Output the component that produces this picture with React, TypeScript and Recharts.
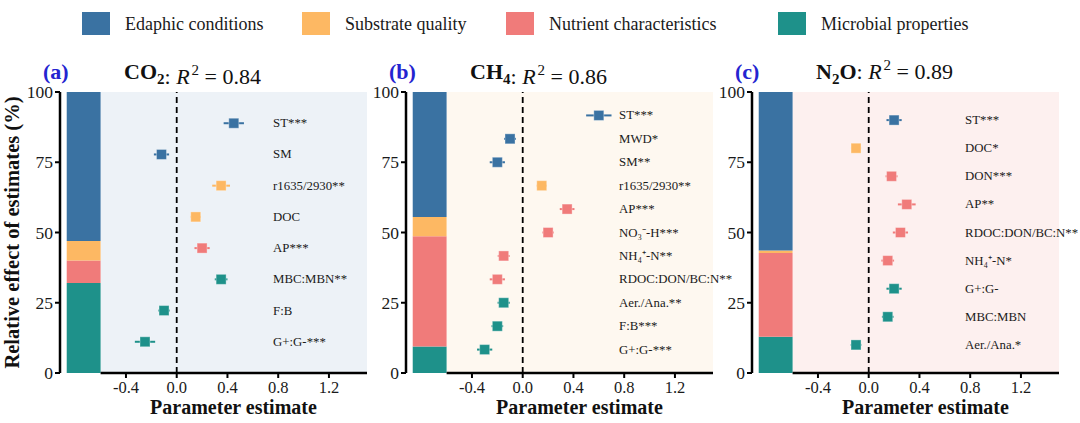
import React from "react";
import {
  ComposedChart,
  Scatter,
  ErrorBar,
  XAxis,
  YAxis,
  ReferenceArea,
  ReferenceLine,
} from "recharts";

// groups (legend order)
const groupNames = ["Edaphic conditions", "Substrate quality", "Nutrient characteristics", "Microbial properties"];
const groupColors = ["#3A72A2", "#FDB863", "#F07B7A", "#1E918A"];

// (a) CO2
const labelsA = ["ST***", "SM", "r1635/2930**", "DOC", "AP***", "MBC:MBN**", "F:B", "G+:G-***"];
const estA = [0.45, -0.12, 0.35, 0.15, 0.2, 0.35, -0.1, -0.25];
const errA = [0.08, 0.06, 0.07, 0.04, 0.06, 0.05, 0.045, 0.08];
const groupA = [0, 0, 1, 1, 2, 3, 3, 3];
const shareA = [53, 7, 8, 32];

// (b) CH4
const labelsB = ["ST***", "MWD*", "SM**", "r1635/2930**", "AP***", "NO₃⁻-H***", "NH₄⁺-N**", "RDOC:DON/BC:N**", "Aer./Ana.**", "F:B***", "G+:G-***"];
const estB = [0.6, -0.1, -0.2, 0.15, 0.35, 0.2, -0.15, -0.2, -0.15, -0.2, -0.3];
const errB = [0.1, 0.047, 0.06, 0.04, 0.058, 0.045, 0.047, 0.06, 0.048, 0.046, 0.06];
const groupB = [0, 0, 0, 1, 2, 2, 2, 2, 3, 3, 3];
const shareB = [44.5, 6.8, 39.3, 9.4];

// (c) N2O
const labelsC = ["ST***", "DOC*", "DON***", "AP**", "RDOC:DON/BC:N**", "NH₄⁺-N*", "G+:G-", "MBC:MBN", "Aer./Ana.*"];
const estC = [0.2, -0.1, 0.18, 0.3, 0.25, 0.15, 0.2, 0.15, -0.1];
const errC = [0.06, 0.04, 0.047, 0.07, 0.06, 0.05, 0.06, 0.046, 0.042];
const groupC = [0, 1, 2, 2, 2, 2, 3, 3, 3];
const shareC = [56.4, 0.9, 29.8, 12.9];

const xTicks = [-0.4, 0, 0.4, 0.8, 1.2];
const yTicks = [0, 25, 50, 75, 100];
const LABEL_X = 0.76;
const FONT = "Liberation Serif, Times New Roman, serif";

const panels = [
  { tag: "(a)", gas: "CO", sub: "2", tail: "", r2: "0.84", labels: labelsA, est: estA, err: errA, group: groupA, share: shareA, bg: "#EDF2F7" },
  { tag: "(b)", gas: "CH", sub: "4", tail: "", r2: "0.86", labels: labelsB, est: estB, err: errB, group: groupB, share: shareB, bg: "#FEF8F0" },
  { tag: "(c)", gas: "N", sub: "2", tail: "O", r2: "0.89", labels: labelsC, est: estC, err: errC, group: groupC, share: shareC, bg: "#FDF0EF" },
];

const PANEL_STEP = 346;
const AXIS_X = 60;

function Square(props: any) {
  const { cx, cy, fill } = props;
  if (cx == null || cy == null) return null;
  return (
    <rect x={cx - 5} y={cy - 5} width={10} height={10} fill={fill} stroke="rgba(255,255,255,0.35)" strokeWidth={1} />
  );
}

function LabelShape(props: any) {
  const { cx, cy, payload } = props;
  if (cx == null || cy == null) return null;
  return (
    <text x={cx} y={cy} dominantBaseline="central" fontSize={12.8} fontFamily={FONT} fill="#1a1a1a">
      {payload.label}
    </text>
  );
}

function Panel({ p, left }: { p: any; left: number }) {
  const n = p.labels.length;
  const rows = p.labels.map((label: string, i: number) => ({
    x: p.est[i],
    err: p.err[i],
    y: ((n - i) * 100) / (n + 1),
    g: p.group[i],
    label,
  }));
  const labelRows = rows.map((r: any) => ({ x: LABEL_X, y: r.y, label: r.label }));
  let acc = 0;
  const segs = [3, 2, 1, 0].map((g) => {
    const y1 = acc;
    acc += p.share[g];
    return { g, y1, y2: acc };
  });

  return (
    <div style={{ position: "absolute", left, top: 0, width: 400, height: 423 }}>
      <ComposedChart width={400} height={423} margin={{ top: 92, right: 33, bottom: 20, left: 20 }} style={{ overflow: "visible" }}>
        <XAxis
          type="number"
          dataKey="x"
          domain={[-0.92, 1.5]}
          ticks={xTicks}
          axisLine={false}
          tickLine={{ stroke: "#000", strokeWidth: 2 }}
          tickSize={5}
          tickMargin={3}
          height={30}
          tick={{ fontSize: 16.5, fill: "#1a1a1a", fontFamily: FONT }}
          tickFormatter={(v: number) => v.toFixed(1)}
        />
        <YAxis
          type="number"
          dataKey="y"
          domain={[0, 100]}
          ticks={yTicks}
          width={40}
          axisLine={{ stroke: "#000", strokeWidth: 2.5 }}
          tickLine={{ stroke: "#000", strokeWidth: 2 }}
          tickSize={5}
          tickMargin={2}
          tick={{ fontSize: 17.5, fill: "#1a1a1a", fontFamily: FONT }}
        />
        <ReferenceArea x1={-0.6} x2={1.5} y1={0} y2={100} fill={p.bg} fillOpacity={1} stroke="none" />
        {segs.map((s) => (
          <ReferenceArea
            key={s.g}
            x1={-0.867}
            x2={-0.6}
            y1={s.y1}
            y2={s.y2}
            fill={groupColors[s.g]}
            fillOpacity={1}
            stroke="none"
          />
        ))}
        <ReferenceLine x={0} stroke="#000" strokeWidth={1.8} strokeDasharray="6 4" />
        <ReferenceLine
          segment={[{ x: -0.6, y: 0 }, { x: 1.5, y: 0 }]}
          stroke="#000"
          strokeWidth={2.5}
          ifOverflow="visible"
        />
        {[0, 1, 2, 3].map((g) => (
          <Scatter
            key={g}
            data={rows.filter((r: any) => r.g === g)}
            fill={groupColors[g]}
            shape={Square}
            isAnimationActive={false}
          >
            <ErrorBar dataKey="err" direction="x" width={0} stroke={groupColors[g]} strokeWidth={2} />
          </Scatter>
        ))}
        <Scatter data={labelRows} shape={LabelShape} isAnimationActive={false} />
      </ComposedChart>
    </div>
  );
}

function Overlay() {
  const legendX = [82, 302, 506, 778];
  return (
    <svg width={1080} height={423} style={{ position: "absolute", left: 0, top: 0, pointerEvents: "none" }}>
      {groupNames.map((name, i) => (
        <g key={name}>
          <rect x={legendX[i]} y={12} width={28} height={23} fill={groupColors[i]} />
          <text x={legendX[i] + 43} y={30} fontSize={18} fill="#1a1a1a" fontFamily={FONT}>
            {name}
          </text>
        </g>
      ))}
      {panels.map((p, i) => {
        const ax = AXIS_X + i * PANEL_STEP;
        return (
          <g key={p.tag}>
            <text x={ax - 17} y={79} fontSize={22} fontWeight="bold" fill="#2424D0" fontFamily={FONT}>
              {p.tag}
            </text>
            <text x={ax + 64} y={79} fontSize={22} fill="#111" fontFamily={FONT}>
              <tspan fontWeight="bold">{p.gas}</tspan>
              <tspan fontWeight="bold" fontSize={15} dy={5}>{p.sub}</tspan>
              <tspan fontWeight="bold" dy={-5}>{p.tail}</tspan>
              <tspan>{": "}</tspan>
              <tspan fontStyle="italic">R</tspan>
              <tspan fontSize={15} dy={-9} dx={2}>2</tspan>
              <tspan dy={9}>{" = " + p.r2}</tspan>
            </text>
            <text x={ax + 173.5} y={414} fontSize={20} fontWeight="bold" textAnchor="middle" fill="#111" fontFamily={FONT}>
              Parameter estimate
            </text>
          </g>
        );
      })}
      <text
        x={19}
        y={232.5}
        transform="rotate(-90 19 232.5)"
        textAnchor="middle"
        fontSize={20.5}
        fontWeight="bold"
        fill="#111"
        fontFamily={FONT}
      >
        Relative effect of estimates (%)
      </text>
    </svg>
  );
}

export default function App() {
  return (
    <div style={{ position: "absolute", left: 0, top: 0, width: 1080, height: 423, background: "#fff", fontFamily: FONT }}>
      {panels.map((p, i) => (
        <Panel key={p.tag} p={p} left={i * PANEL_STEP} />
      ))}
      <Overlay />
    </div>
  );
}
